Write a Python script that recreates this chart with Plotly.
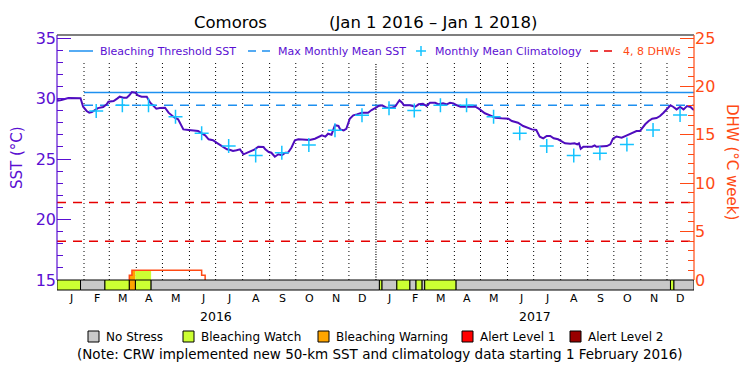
import pandas as pd
import plotly.graph_objects as go

# ---------------- data ----------------
sst_dates = [
    "2016-01-01", "2016-01-02", "2016-01-06", "2016-01-10", "2016-01-14", "2016-01-28",
    "2016-01-31", "2016-02-04", "2016-02-07", "2016-02-10", "2016-02-13", "2016-02-17",
    "2016-02-23", "2016-02-27", "2016-02-29", "2016-03-06", "2016-03-10", "2016-03-13",
    "2016-03-17", "2016-03-21", "2016-03-24", "2016-03-27", "2016-03-31", "2016-04-03",
    "2016-04-07", "2016-04-13", "2016-04-17", "2016-04-21", "2016-04-24", "2016-04-28",
    "2016-05-04", "2016-05-08", "2016-05-12", "2016-05-15", "2016-05-19", "2016-05-23",
    "2016-05-25", "2016-05-31", "2016-06-07", "2016-06-11", "2016-06-15", "2016-06-19",
    "2016-06-23", "2016-06-28", "2016-07-02", "2016-07-06", "2016-07-10", "2016-07-14",
    "2016-07-18", "2016-07-21", "2016-07-25", "2016-07-29", "2016-08-02", "2016-08-06",
    "2016-08-10", "2016-08-15", "2016-08-19", "2016-08-25", "2016-08-27", "2016-08-31",
    "2016-09-03", "2016-09-07", "2016-09-11", "2016-09-15", "2016-09-19", "2016-09-22",
    "2016-09-26", "2016-09-30", "2016-10-04", "2016-10-12", "2016-10-17", "2016-10-23",
    "2016-10-27", "2016-10-31", "2016-11-04", "2016-11-07", "2016-11-11", "2016-11-15",
    "2016-11-19", "2016-11-21", "2016-11-25", "2016-11-28", "2016-12-02", "2016-12-06",
    "2016-12-10", "2016-12-16", "2016-12-23", "2016-12-27", "2017-01-02", "2017-01-04",
    "2017-01-08", "2017-01-13", "2017-01-19", "2017-01-23", "2017-01-26", "2017-01-28",
    "2017-01-31", "2017-02-02", "2017-02-09", "2017-02-15", "2017-02-19", "2017-02-24",
    "2017-02-28", "2017-03-04", "2017-03-10", "2017-03-14", "2017-03-19", "2017-03-23",
    "2017-03-27", "2017-03-31", "2017-04-04", "2017-04-08", "2017-04-15", "2017-04-25",
    "2017-04-29", "2017-05-02", "2017-05-06", "2017-05-12", "2017-05-18", "2017-05-25",
    "2017-06-02", "2017-06-06", "2017-06-13", "2017-06-19", "2017-06-25", "2017-06-29",
    "2017-07-04", "2017-07-06", "2017-07-08", "2017-07-12", "2017-07-16", "2017-07-20",
    "2017-07-24", "2017-07-29", "2017-08-02", "2017-08-06", "2017-08-12", "2017-08-17",
    "2017-08-20", "2017-08-22", "2017-08-24", "2017-08-27", "2017-09-06", "2017-09-09",
    "2017-09-11", "2017-09-17", "2017-09-23", "2017-09-27", "2017-09-30", "2017-10-04",
    "2017-10-10", "2017-10-16", "2017-10-22", "2017-10-27", "2017-10-31", "2017-11-03",
    "2017-11-06", "2017-11-10", "2017-11-14", "2017-11-19", "2017-11-23", "2017-11-27",
    "2017-12-01", "2017-12-05", "2017-12-08", "2017-12-12", "2017-12-16", "2017-12-20",
    "2017-12-24", "2017-12-28", "2017-12-31", "2018-01-01",
]
sst_values = [
    30.02, 29.82, 29.88, 29.99, 30.04, 30.02,
    29.32, 28.97, 28.83, 28.88, 29.02, 29.21,
    29.30, 29.52, 29.74, 29.79, 29.99, 30.15,
    30.07, 30.07, 30.26, 30.54, 30.48, 30.26,
    30.15, 30.15, 29.65, 29.32, 29.16, 29.21,
    29.24, 28.83, 28.55, 28.41, 28.28, 27.73,
    27.45, 27.40, 27.37, 27.31, 27.12, 26.96,
    26.63, 26.55, 26.35, 26.15, 25.93, 25.80,
    25.74, 25.66, 25.72, 25.80, 25.39, 25.52,
    25.66, 25.80, 26.02, 25.99, 25.80, 25.58,
    25.52, 25.19, 25.39, 25.31, 25.52, 25.52,
    25.93, 26.55, 26.63, 26.63, 26.57, 26.68,
    26.82, 26.96, 26.85, 27.09, 27.01, 27.79,
    27.73, 27.45, 27.37, 27.50, 28.33, 28.61,
    28.69, 28.83, 28.83, 29.05, 29.28, 29.38,
    29.44, 29.24, 29.24, 29.32, 29.65, 29.85,
    29.65, 29.44, 29.44, 29.32, 29.52, 29.57,
    29.38, 29.65, 29.65, 29.52, 29.60, 29.52,
    29.65, 29.60, 29.44, 29.32, 29.32, 29.32,
    29.16, 28.97, 28.78, 28.61, 28.41, 28.36,
    28.33, 28.14, 28.00, 27.73, 27.54, 27.45,
    27.40, 27.17, 26.85, 26.71, 26.90, 26.90,
    26.71, 26.63, 26.49, 26.30, 26.26, 26.30,
    26.21, 26.30, 25.85, 26.02, 26.02, 26.13,
    26.02, 26.07, 26.07, 26.21, 26.68, 26.85,
    26.76, 26.96, 27.17, 27.31, 27.31, 27.59,
    27.87, 28.14, 28.33, 28.39, 28.55, 28.83,
    29.10, 29.44, 29.32, 29.10, 29.30, 29.10,
    29.38, 29.30, 29.10, 29.05,
]

clim_dates = [
    "2016-02-15", "2016-03-16", "2016-04-15", "2016-05-16", "2016-06-15", "2016-07-16",
    "2016-08-16", "2016-09-15", "2016-10-16", "2016-11-15", "2016-12-16",
    "2017-01-16", "2017-02-14", "2017-03-16", "2017-04-15", "2017-05-16", "2017-06-15",
    "2017-07-16", "2017-08-16", "2017-09-15", "2017-10-16", "2017-11-15", "2017-12-16",
]
clim_values = [
    28.97, 29.44, 29.44, 28.50, 27.12, 26.07, 25.30, 25.52, 26.16, 27.37, 28.61,
    29.19, 29.02, 29.44, 29.44, 28.50, 27.12, 26.07, 25.30, 25.47, 26.21, 27.40, 28.64,
]

mmm_sst = 29.45
threshold_sst = 30.5
clim_start = "2016-02-01"
period_start = "2016-01-01"
period_end = "2018-01-01"
dhw_marks = [4, 8]

dhw_dates = ["2016-03-24", "2016-03-24", "2016-03-27", "2016-06-15", "2016-06-19"]
dhw_values = [0.0, 0.5, 1.0, 0.5, 0.0]

stress_starts = [
    "2016-01-01", "2016-01-28", "2016-02-25", "2016-03-24", "2016-03-31", "2016-04-18",
    "2017-01-05", "2017-01-08", "2017-01-25", "2017-02-09", "2017-02-16", "2017-02-23",
    "2017-02-26", "2017-04-03", "2017-12-05", "2017-12-09",
]
stress_levels = [1, 0, 1, 2, 1, 0, 1, 0, 1, 0, 1, 0, 1, 0, 1, 0]
stress_names = ["No Stress", "Bleaching Watch", "Bleaching Warning", "Alert Level 1", "Alert Level 2"]
stress_colors = ["#c8c8c8", "#ccff33", "#ffa500", "#ff0000", "#990000"]

month_letters = list("JFMAMJJASOND") * 2
year_labels = ["2016", "2017"]
sst_ticks = [15, 20, 25, 30, 35]
dhw_ticks = [0, 5, 10, 15, 20, 25]

# ---------------- styling ----------------
FONT = "DejaVu Sans"
PURPLE = "#5a0fd2"
LINE_PURPLE = "#4f0cbe"
ORANGE = "#ff4a14"
BLUE = "#1e90f0"
CYAN = "#14c3ff"
RED = "#e60000"

W, H = 750, 375
L, R, T, B = 57, 694, 35, 290  # plot area in pixels
SST_RANGE = [14.174, 35.25]
DHW_RANGE = [(SST_RANGE[0] - 15) * 1.25, (SST_RANGE[1] - 15) * 1.25]


def PX(p):
    return (p - L) / (R - L)


def PY(p):
    return (B - p) / (B - T)


fig = go.Figure()

# DHW fills under the curve coloured by stress level
dd = pd.to_datetime(dhw_dates)


def dhw_at(t):
    v = 0.0
    for d, val in zip(dd, dhw_values):
        if d <= t:
            v = val
    return v


stress_ends = stress_starts[1:] + [period_end]
for s, e, lev in zip(stress_starts, stress_ends, stress_levels):
    if lev == 0:
        continue
    s_t, e_t = pd.Timestamp(s), pd.Timestamp(e)
    bps = [s_t] + [d for d in dd if s_t < d < e_t] + [e_t]
    bps = sorted(set(bps))
    xs, ys = [s_t], [0.0]
    anyv = False
    for a, b in zip(bps[:-1], bps[1:]):
        v = dhw_at(a)
        if v > 0:
            anyv = True
        xs += [a, b]
        ys += [v, v]
    xs.append(e_t)
    ys.append(0.0)
    if anyv:
        fig.add_trace(go.Scatter(x=xs, y=ys, yaxis="y2", mode="lines", fill="toself",
                                 fillcolor=stress_colors[lev], line=dict(width=0),
                                 hoverinfo="skip", showlegend=False))

# DHW curve
fig.add_trace(go.Scatter(x=dhw_dates, y=dhw_values, yaxis="y2", mode="lines",
                         line=dict(color=ORANGE, width=1.5, shape="hv"),
                         showlegend=False))

# SST
fig.add_trace(go.Scatter(x=sst_dates, y=sst_values, mode="lines",
                         line=dict(color=LINE_PURPLE, width=2),
                         showlegend=False))

# climatology
fig.add_trace(go.Scatter(x=clim_dates, y=clim_values, mode="markers",
                         marker=dict(symbol="cross-thin", size=10,
                                     line=dict(width=1.5, color=CYAN)),
                         showlegend=False))

shapes = []
# threshold and MMM
shapes.append(dict(type="line", xref="x", yref="y", x0=clim_start, x1=period_end,
                   y0=threshold_sst, y1=threshold_sst, layer="below",
                   line=dict(color=BLUE, width=1.5)))
shapes.append(dict(type="line", xref="x", yref="y", x0=clim_start, x1=period_end,
                   y0=mmm_sst, y1=mmm_sst, layer="below",
                   line=dict(color=BLUE, width=1.5, dash="9px,7px")))
for m in dhw_marks:
    shapes.append(dict(type="line", xref="paper", yref="y2", x0=0, x1=1, y0=m, y1=m,
                       layer="below", line=dict(color=RED, width=1.5, dash="9px,7px")))

# monthly dotted lines
month_starts = pd.date_range(period_start, period_end, freq="MS")
for d in month_starts[1:-1]:
    is_year = d.month == 1
    shapes.append(dict(type="line", xref="x", yref="paper", x0=d, x1=d,
                       y0=PY(280), y1=PY(63), layer="below",
                       line=dict(color="black", width=1.2 if is_year else 1,
                                 dash="1px,1.5px" if is_year else "1px,3px")))

# stress strip
for s, e, lev in zip(stress_starts, stress_ends, stress_levels):
    shapes.append(dict(type="rect", xref="x", yref="paper", x0=s, x1=e,
                       y0=0, y1=PY(280), fillcolor=stress_colors[lev],
                       line=dict(color="black", width=1), layer="above"))

# frame
shapes.append(dict(type="line", xref="paper", yref="paper", x0=0, x1=1, y0=1, y1=1,
                   line=dict(color="black", width=1.2), layer="above"))
shapes.append(dict(type="line", xref="paper", yref="paper", x0=0, x1=0, y0=PY(280), y1=1,
                   line=dict(color=PURPLE, width=1.2), layer="above"))
shapes.append(dict(type="line", xref="paper", yref="paper", x0=1, x1=1, y0=PY(280), y1=1,
                   line=dict(color=ORANGE, width=1.2), layer="above"))

annotations = []

# title
annotations.append(dict(text="Comoros", x=PX(230), y=PY(23), xref="paper", yref="paper",
                        showarrow=False, font=dict(family=FONT, size=16.5, color="black"),
                        xanchor="center", yanchor="middle"))
annotations.append(dict(text="(Jan 1 2016 \u2013 Jan 1 2018)", x=PX(433), y=PY(23),
                        xref="paper", yref="paper", showarrow=False,
                        font=dict(family=FONT, size=16.5, color="black"),
                        xanchor="center", yanchor="middle"))

# top legend
LY = 51
shapes.append(dict(type="line", xref="paper", yref="paper", x0=PX(69), x1=PX(93),
                   y0=PY(LY), y1=PY(LY), line=dict(color=BLUE, width=1.5), layer="above"))
annotations.append(dict(text="Bleaching Threshold SST", x=PX(98), y=PY(LY), xref="paper",
                        yref="paper", showarrow=False, xanchor="left", yanchor="middle",
                        font=dict(family=FONT, size=11, color=PURPLE)))
shapes.append(dict(type="line", xref="paper", yref="paper", x0=PX(248), x1=PX(271),
                   y0=PY(LY), y1=PY(LY), line=dict(color=BLUE, width=1.5, dash="8px,6px"),
                   layer="above"))
annotations.append(dict(text="Max Monthly Mean SST", x=PX(276), y=PY(LY), xref="paper",
                        yref="paper", showarrow=False, xanchor="left", yanchor="middle",
                        font=dict(family=FONT, size=11, color=PURPLE)))
shapes.append(dict(type="line", xref="paper", yref="paper", x0=PX(416), x1=PX(426),
                   y0=PY(LY), y1=PY(LY), line=dict(color=CYAN, width=1.5), layer="above"))
shapes.append(dict(type="line", xref="paper", yref="paper", x0=PX(421), x1=PX(421),
                   y0=PY(LY - 5), y1=PY(LY + 5), line=dict(color=CYAN, width=1.5),
                   layer="above"))
annotations.append(dict(text="Monthly Mean Climatology", x=PX(433), y=PY(LY), xref="paper",
                        yref="paper", showarrow=False, xanchor="left", yanchor="middle",
                        font=dict(family=FONT, size=11, color=PURPLE)))
shapes.append(dict(type="line", xref="paper", yref="paper", x0=PX(590), x1=PX(615),
                   y0=PY(LY), y1=PY(LY), line=dict(color=RED, width=1.5, dash="8px,6px"),
                   layer="above"))
annotations.append(dict(text="4, 8 DHWs", x=PX(621), y=PY(LY), xref="paper",
                        yref="paper", showarrow=False, xanchor="left", yanchor="middle",
                        font=dict(family=FONT, size=11, color=ORANGE)))

# month labels
for d, lab in zip(month_starts[:-1], month_letters):
    mid = d + (d + pd.offsets.MonthBegin(1) - d) / 2
    annotations.append(dict(text=lab, x=mid, y=PY(298), xref="x", yref="paper",
                            showarrow=False, xanchor="center", yanchor="middle",
                            font=dict(family=FONT, size=11, color="black")))
for yl in year_labels:
    mid = pd.Timestamp(f"{yl}-07-02")
    annotations.append(dict(text=yl, x=mid, y=PY(316), xref="x", yref="paper",
                            showarrow=False, xanchor="center", yanchor="middle",
                            font=dict(family=FONT, size=12.5, color="black")))

# axis titles
annotations.append(dict(text="SST (\u00b0C)", x=PX(17), y=PY(158), xref="paper",
                        yref="paper", showarrow=False, textangle=-90,
                        xanchor="center", yanchor="middle",
                        font=dict(family=FONT, size=15, color=PURPLE)))
annotations.append(dict(text="DHW (\u00b0C week)", x=PX(732), y=PY(162), xref="paper",
                        yref="paper", showarrow=False, textangle=90,
                        xanchor="center", yanchor="middle",
                        font=dict(family=FONT, size=15, color=ORANGE)))

# bottom legend
box_x = [88, 183, 318, 462, 570]
for bx, name, col in zip(box_x, stress_names, stress_colors):
    shapes.append(dict(type="rect", xref="paper", yref="paper", x0=PX(bx), x1=PX(bx + 11),
                       y0=PY(342), y1=PY(331), fillcolor=col,
                       line=dict(color="black", width=1), layer="above"))
    annotations.append(dict(text=name, x=PX(bx + 16), y=PY(336.5), xref="paper",
                            yref="paper", showarrow=False, xanchor="left",
                            yanchor="middle",
                            font=dict(family=FONT, size=12, color="black")))

annotations.append(dict(
    text="(Note: CRW implemented new 50-km SST and climatology data starting 1 February 2016)",
    x=PX(380), y=PY(354), xref="paper", yref="paper", showarrow=False,
    xanchor="center", yanchor="middle",
    font=dict(family=FONT, size=13.5, color="black")))

fig.update_layout(
    width=W, height=H, autosize=False,
    margin=dict(l=L, r=W - R, t=T, b=H - B, pad=0),
    paper_bgcolor="white", plot_bgcolor="rgba(0,0,0,0)",
    showlegend=False,
    shapes=shapes, annotations=annotations,
    xaxis=dict(range=[period_start, period_end], showgrid=False, zeroline=False,
               showline=False, showticklabels=False, ticks=""),
    yaxis=dict(range=SST_RANGE, showgrid=False, zeroline=False, showline=False,
               tickmode="array", tickvals=sst_ticks, ticks="inside", ticklen=14,
               tickwidth=1, tickcolor=PURPLE,
               tickfont=dict(family=FONT, size=16, color=PURPLE),
               minor=dict(tickmode="array", tickvals=list(range(15, 36)),
                          ticks="inside", ticklen=6, tickcolor=PURPLE, showgrid=False)),
    yaxis2=dict(range=DHW_RANGE, overlaying="y", side="right", anchor="x",
                showgrid=False, zeroline=False, showline=False,
                tickmode="array", tickvals=dhw_ticks, ticks="inside", ticklen=14,
                tickwidth=1, tickcolor=ORANGE,
                tickfont=dict(family=FONT, size=16, color=ORANGE),
                minor=dict(tickmode="array", tickvals=list(range(0, 26)),
                           ticks="inside", ticklen=6, tickcolor=ORANGE, showgrid=False)),
)

fig.write_html(
    "out.html",
    config={"displayModeBar": False},
    post_script="document.body.style.margin='0px';document.body.style.padding='0px';",
)
